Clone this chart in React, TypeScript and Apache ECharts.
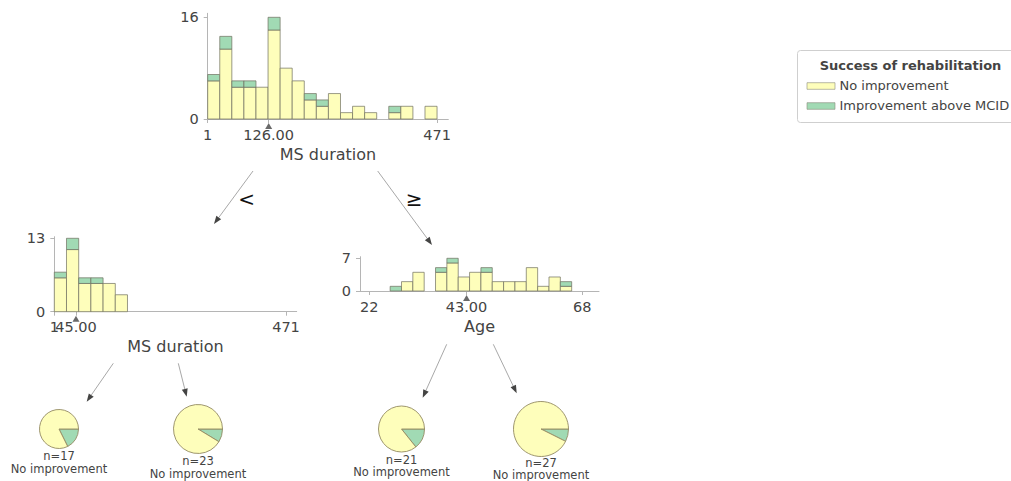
import React, { useEffect, useRef } from "react";
import * as echarts from "echarts";

// ---------- data ----------
const classNames = ["No improvement", "Improvement above MCID"];
const legendTitle = "Success of rehabilitation";

// root node: MS duration
const rootFeature = "MS duration";
const rootBinStart = 1;
const rootBinWidth = 24.74;
const rootNoImp = [6, 11, 5, 5, 5, 14, 8, 6, 3, 2, 4, 1, 2, 1, 0, 1, 2, 0, 2];
const rootImp = [1, 2, 1, 1, 0, 2, 0, 0, 1, 1, 0, 0, 0, 0, 0, 1, 0, 0, 0];
const rootTicks = [1, 126, 471];
const rootSplit = 126;
const rootYTicks = [0, 16];

// left node: MS duration < 126
const leftFeature = "MS duration";
const leftBinStart = 1;
const leftBinWidth = 24.74;
const leftNoImp = [6, 11, 5, 5, 5, 3];
const leftImp = [1, 2, 1, 1, 0, 0];
const leftTicks = [1, 45, 471];
const leftSplit = 45;
const leftYTicks = [0, 13];

// right node: MS duration >= 126
const rightFeature = "Age";
const rightBinStart = 26.5;
const rightBinWidth = 2.45;
const rightNoImp = [0, 2, 4, 0, 4, 6, 3, 4, 4, 2, 2, 2, 5, 1, 3, 1];
const rightImp = [1, 0, 0, 0, 1, 1, 0, 0, 1, 0, 0, 0, 0, 0, 0, 1];
const rightTicks = [22, 43, 68];
const rightSplit = 43;
const rightYTicks = [0, 7];

// leaves
const leafNoImp = [14, 21, 18, 25];
const leafImp = [3, 2, 3, 2];
const leafPrediction = ["No improvement", "No improvement", "No improvement", "No improvement"];

// ---------- styles ----------
const YELLOW = "#fefebb";
const GREEN = "#a1dab4";
const TEXT = "#444443";
const EDGE = "#6e6e5e";
const AXIS = "#b5b5b5";
const FONT = "DejaVu Sans";

function histData(start: number, width: number, noImp: number[], imp: number[]) {
  const out: number[][] = [];
  noImp.forEach((n, i) => {
    const x0 = start + i * width;
    const x1 = x0 + width;
    if (n > 0) out.push([x0, x1, 0, n, 0]);
    if (imp[i] > 0) out.push([x0, x1, n, n + imp[i], 1]);
  });
  return out;
}

const renderBar = (params: any, api: any) => {
  const p0 = api.coord([api.value(0), api.value(3)]);
  const p1 = api.coord([api.value(1), api.value(2)]);
  return {
    type: "rect",
    shape: { x: p0[0], y: p0[1], width: p1[0] - p0[0], height: p1[1] - p0[1] },
    style: { fill: api.value(4) ? GREEN : YELLOW, stroke: EDGE, lineWidth: 0.7 },
  };
};

function arrow(x1: number, y1: number, x2: number, y2: number) {
  const ang = Math.atan2(y2 - y1, x2 - x1);
  const L = 8;
  const W = 3;
  const bx = x2 - L * Math.cos(ang);
  const by = y2 - L * Math.sin(ang);
  const px = -Math.sin(ang) * W;
  const py = Math.cos(ang) * W;
  return [
    { type: "line", shape: { x1, y1, x2: bx, y2: by }, style: { stroke: "#a8a8a8", lineWidth: 1 } },
    {
      type: "polygon",
      shape: { points: [[x2, y2], [bx + px, by + py], [bx - px, by - py]] },
      style: { fill: "#444443" },
    },
  ];
}

export default function App() {
  const ref = useRef<HTMLDivElement>(null);
  useEffect(() => {
    document.body.style.margin = "0";
    const chart = echarts.init(ref.current!, undefined, { renderer: "svg" });

    const grids = [
      { left: 207.7, top: 13.3, width: 240.6, height: 105.7 },
      { left: 54.3, top: 236.7, width: 242.4, height: 75 },
      { left: 360, top: 256.7, width: 239, height: 34.3 },
    ];
    const xRanges = [
      [1, 494.1],
      [1, 492.7],
      [19.99, 71.6],
    ];
    const yMax = [16.63, 13.28, 7.34];
    const splits = [rootSplit, leftSplit, rightSplit];
    // labels other than the split value (split label drawn on an overlay axis so overlapping labels both show)
    const xTicks = [rootTicks, leftTicks, rightTicks];
    const yTicks = [rootYTicks, leftYTicks, rightYTicks];
    const features = [rootFeature, leftFeature, rightFeature];
    const hists = [
      histData(rootBinStart, rootBinWidth, rootNoImp, rootImp),
      histData(leftBinStart, leftBinWidth, leftNoImp, leftImp),
      histData(rightBinStart, rightBinWidth, rightNoImp, rightImp),
    ];

    const labelStyle = { color: TEXT, fontSize: 14.5, fontFamily: FONT, margin: 8 };
    const xAxis: any[] = grids.map((_, i) => ({
      type: "value",
      gridIndex: i,
      min: xRanges[i][0],
      max: xRanges[i][1],
      splitLine: { show: false },
      axisLine: { show: true, lineStyle: { color: AXIS, width: 1 } },
      axisTick: { show: true, customValues: xTicks[i], length: 4, lineStyle: { color: AXIS } },
      axisLabel: {
        ...labelStyle,
        customValues: xTicks[i].filter((v) => v !== splits[i]),
      },
      name: features[i],
      nameLocation: "middle",
      nameGap: 27,
      nameTextStyle: { color: TEXT, fontSize: 16, fontFamily: FONT },
    }));
    // overlay axes carrying only the split-value label
    grids.forEach((_, i) => {
      xAxis.push({
        type: "value",
        gridIndex: i,
        min: xRanges[i][0],
        max: xRanges[i][1],
        position: "bottom",
        splitLine: { show: false },
        axisLine: { show: false },
        axisTick: { show: false },
        axisLabel: {
          ...labelStyle,
          customValues: [splits[i]],
          formatter: (v: number) => v.toFixed(2),
        },
      });
    });
    const yAxis = grids.map((_, i) => ({
      type: "value",
      gridIndex: i,
      min: 0,
      max: yMax[i],
      splitLine: { show: false },
      axisLine: { show: true, lineStyle: { color: AXIS, width: 1 } },
      axisTick: { show: true, customValues: yTicks[i], length: 4, lineStyle: { color: AXIS } },
      axisLabel: {
        customValues: yTicks[i],
        color: TEXT,
        fontSize: 14.5,
        fontFamily: FONT,
        margin: 9,
      },
    }));

    const series: any[] = [];
    hists.forEach((d, i) => {
      series.push({
        type: "custom",
        xAxisIndex: i,
        yAxisIndex: i,
        renderItem: renderBar,
        encode: { x: [0, 1], y: [2, 3] },
        data: d,
        silent: true,
      });
      series.push({
        type: "scatter",
        xAxisIndex: i,
        yAxisIndex: i,
        data: [[splits[i], 0]],
        symbol: "triangle",
        symbolSize: [7, 6],
        symbolOffset: [0, 7],
        itemStyle: { color: "#444443" },
        clip: false,
        silent: true,
      });
    });

    const pieCenters = [
      [59, 429],
      [198, 429],
      [401.5, 429],
      [541, 429],
    ];
    const pieRadii = [19.5, 24.5, 23, 27.5];
    const graphics: any[] = [];
    leafNoImp.forEach((n, i) => {
      series.push({
        type: "pie",
        center: pieCenters[i],
        radius: pieRadii[i],
        startAngle: 0,
        clockwise: true,
        label: { show: false },
        labelLine: { show: false },
        silent: true,
        itemStyle: { borderColor: "#938a62", borderWidth: 0.9 },
        data: [
          { value: leafImp[i], name: classNames[1], itemStyle: { color: GREEN } },
          { value: n, name: classNames[0], itemStyle: { color: YELLOW } },
        ],
      });
      const bottom = pieCenters[i][1] + pieRadii[i];
      const yPred = Math.min(bottom + 20, 475);
      graphics.push({
        type: "text",
        x: pieCenters[i][0],
        y: yPred - 12.5,
        style: {
          text: "n=" + (n + leafImp[i]),
          fill: TEXT,
          font: `11.5px '${FONT}'`,
          align: "center",
          verticalAlign: "middle",
        },
      });
      graphics.push({
        type: "text",
        x: pieCenters[i][0],
        y: yPred,
        style: {
          text: leafPrediction[i],
          fill: TEXT,
          font: `11.5px '${FONT}'`,
          align: "center",
          verticalAlign: "middle",
        },
      });
    });

    // edges
    graphics.push(...arrow(253, 171, 214, 224));
    graphics.push(...arrow(377.7, 171, 432, 245));
    graphics.push(...arrow(113.3, 363.3, 86.7, 401.7));
    graphics.push(...arrow(178.3, 363.3, 186.7, 396.7));
    graphics.push(...arrow(446.7, 344.3, 422.7, 397.7));
    graphics.push(...arrow(493.3, 344.3, 516.7, 393.3));
    graphics.push({
      type: "text",
      x: 246.5,
      y: 198.5,
      style: { text: "<", fill: "#111", font: `20px '${FONT}'`, align: "center", verticalAlign: "middle" },
    });
    graphics.push({
      type: "text",
      x: 414,
      y: 198.5,
      style: { text: "≥", fill: "#111", font: `20px '${FONT}'`, align: "center", verticalAlign: "middle" },
    });

    // legend
    graphics.push({
      type: "rect",
      shape: { x: 797.5, y: 50.5, width: 240, height: 72, r: 3 },
      style: { fill: "#fff", stroke: "#cfcfcf", lineWidth: 1 },
    });
    graphics.push({
      type: "text",
      x: 910.5,
      y: 65.7,
      style: {
        text: legendTitle,
        fill: TEXT,
        font: `bold 13px '${FONT}'`,
        align: "center",
        verticalAlign: "middle",
      },
    });
    [YELLOW, GREEN].forEach((c, k) => {
      graphics.push({
        type: "rect",
        shape: { x: 807, y: 82.7 + k * 20, width: 28, height: 6.6 },
        style: { fill: c, stroke: "#8a8a7a", lineWidth: 0.6 },
      });
      graphics.push({
        type: "text",
        x: 839.5,
        y: 85.9 + k * 20,
        style: {
          text: classNames[k],
          fill: TEXT,
          font: `13px '${FONT}'`,
          align: "left",
          verticalAlign: "middle",
        },
      });
    });

    chart.setOption({
      animation: false,
      backgroundColor: "#ffffff",
      textStyle: { fontFamily: FONT },
      grid: grids.map((g) => ({ ...g, containLabel: false })),
      xAxis,
      yAxis,
      series,
      graphic: graphics,
    });
    return () => chart.dispose();
  }, []);
  return (
    <div
      ref={ref}
      style={{ position: "absolute", left: 0, top: 0, width: 1011, height: 481 }}
    />
  );
}
